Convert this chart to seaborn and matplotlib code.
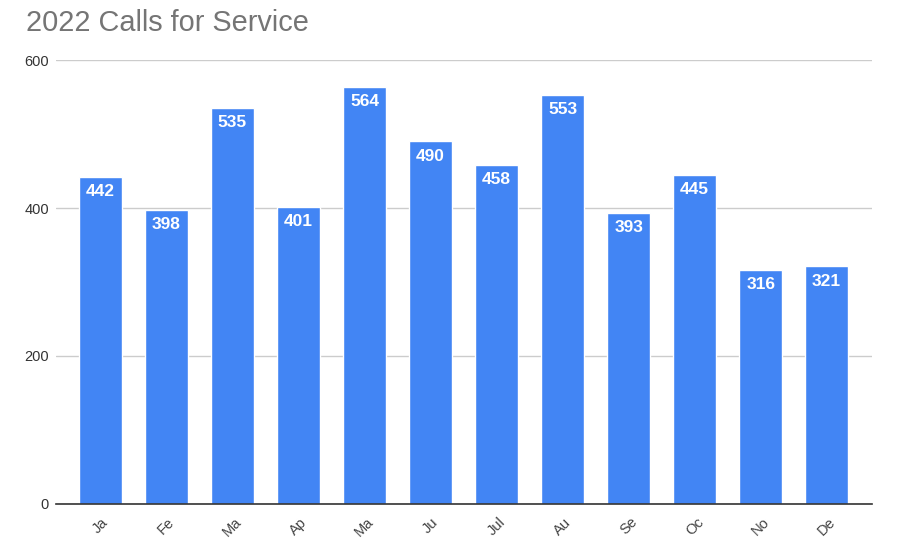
import matplotlib
matplotlib.use("Agg")
import matplotlib.pyplot as plt
import seaborn as sns
import pandas as pd

months = ["Ja", "Fe", "Ma", "Ap", "Ma ", "Ju", "Jul", "Au", "Se", "Oc", "No", "De"]
calls = [442, 398, 535, 401, 564, 490, 458, 553, 393, 445, 316, 321]
yticks = [0, 200, 400, 600]

sns.set_theme(style="white")
plt.rcParams['font.family'] = ['Liberation Sans', 'DejaVu Sans']

df = pd.DataFrame({"month": months, "calls": calls})

fig = plt.figure(figsize=(9.02, 5.46), dpi=100)
ax = fig.add_axes([0.062, 0.077, 0.905, 0.813])

sns.barplot(data=df, x="month", y="calls", color="#4285F4", saturation=1,
            width=0.65, ax=ax, zorder=3)

ax.set_ylim(0, 600)
ax.set_xlim(-0.674, len(months) - 1 + 0.69)
ax.set_yticks(yticks)
ax.set_yticklabels([str(v) for v in yticks], fontsize=10.5, color="#333333")
ax.set_xticks(range(len(months)))
ax.set_xticklabels([m.strip() for m in months], rotation=45, fontsize=10.5,
                   color="#444444", ha="center")
ax.tick_params(axis="x", length=0, pad=8)
ax.tick_params(axis="y", length=0, pad=5)
ax.set_xlabel("")
ax.set_ylabel("")
ax.grid(axis="y", color="#cccccc", linewidth=1, zorder=0)
for s in ["top", "right", "left"]:
    ax.spines[s].set_visible(False)
ax.spines["bottom"].set_color("#333333")
ax.spines["bottom"].set_linewidth(1.2)
ax.spines["bottom"].set_zorder(4)

for i, v in enumerate(calls):
    ax.annotate(str(v), (i, v), xytext=(0, -10.5), textcoords="offset points",
                ha="center", va="center", color="white", fontsize=12.5,
                fontweight="bold", zorder=5)

fig.text(0.029, 0.958, "2022 Calls for Service", fontsize=20.8, color="#757575",
         ha="left", va="center")

fig.savefig("out.png", dpi=100)
